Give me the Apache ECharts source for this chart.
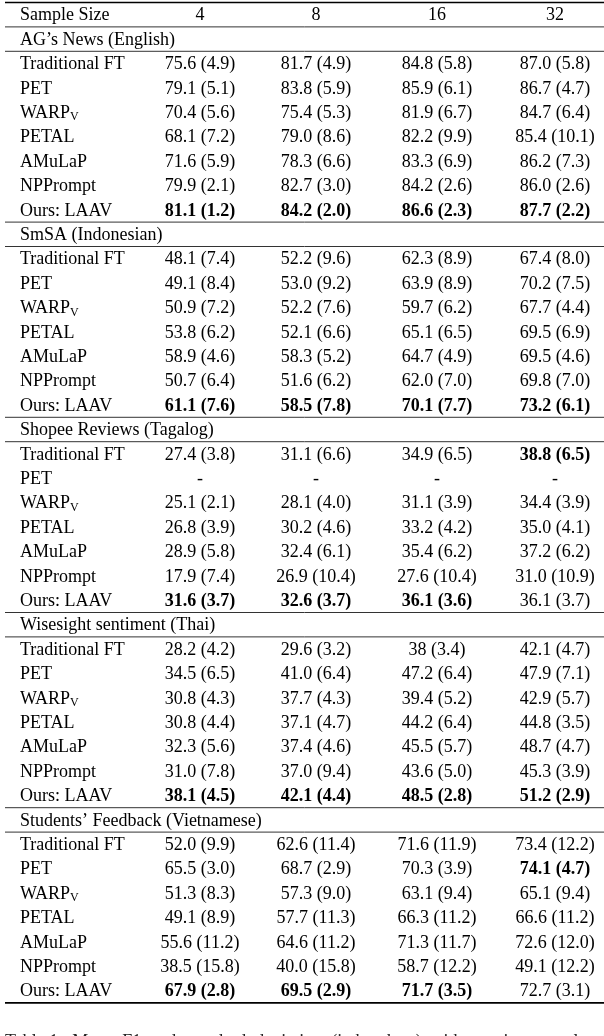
<!DOCTYPE html>
<html><head><meta charset="utf-8">
<script src="https://cdn.jsdelivr.net/npm/echarts@6/dist/echarts.min.js"></script>
<style>html,body{margin:0;padding:0;background:#fff}#c{width:604px;height:1036px}</style>
</head><body><div id="c"></div>
<script>
// ---------- data ----------
const headerLabel = 'Sample Size';
const sampleSizes = ['4', '8', '16', '32'];
const methods = ['Traditional FT', 'PET', 'WARP{sub|V}', 'PETAL', 'AMuLaP', 'NPPrompt', 'Ours: LAAV'];
const datasetNames = ['AG’s News (English)', 'SmSA (Indonesian)', 'Shopee Reviews (Tagalog)', 'Wisesight sentiment (Thai)', 'Students’ Feedback (Vietnamese)'];

const agNews = [
  ['75.6 (4.9)', '81.7 (4.9)', '84.8 (5.8)', '87.0 (5.8)'],
  ['79.1 (5.1)', '83.8 (5.9)', '85.9 (6.1)', '86.7 (4.7)'],
  ['70.4 (5.6)', '75.4 (5.3)', '81.9 (6.7)', '84.7 (6.4)'],
  ['68.1 (7.2)', '79.0 (8.6)', '82.2 (9.9)', '85.4 (10.1)'],
  ['71.6 (5.9)', '78.3 (6.6)', '83.3 (6.9)', '86.2 (7.3)'],
  ['79.9 (2.1)', '82.7 (3.0)', '84.2 (2.6)', '86.0 (2.6)'],
  ['81.1 (1.2)', '84.2 (2.0)', '86.6 (2.3)', '87.7 (2.2)']
];
const agNewsBest = [[6, 0], [6, 1], [6, 2], [6, 3]];

const smsa = [
  ['48.1 (7.4)', '52.2 (9.6)', '62.3 (8.9)', '67.4 (8.0)'],
  ['49.1 (8.4)', '53.0 (9.2)', '63.9 (8.9)', '70.2 (7.5)'],
  ['50.9 (7.2)', '52.2 (7.6)', '59.7 (6.2)', '67.7 (4.4)'],
  ['53.8 (6.2)', '52.1 (6.6)', '65.1 (6.5)', '69.5 (6.9)'],
  ['58.9 (4.6)', '58.3 (5.2)', '64.7 (4.9)', '69.5 (4.6)'],
  ['50.7 (6.4)', '51.6 (6.2)', '62.0 (7.0)', '69.8 (7.0)'],
  ['61.1 (7.6)', '58.5 (7.8)', '70.1 (7.7)', '73.2 (6.1)']
];
const smsaBest = [[6, 0], [6, 1], [6, 2], [6, 3]];

const shopee = [
  ['27.4 (3.8)', '31.1 (6.6)', '34.9 (6.5)', '38.8 (6.5)'],
  ['-', '-', '-', '-'],
  ['25.1 (2.1)', '28.1 (4.0)', '31.1 (3.9)', '34.4 (3.9)'],
  ['26.8 (3.9)', '30.2 (4.6)', '33.2 (4.2)', '35.0 (4.1)'],
  ['28.9 (5.8)', '32.4 (6.1)', '35.4 (6.2)', '37.2 (6.2)'],
  ['17.9 (7.4)', '26.9 (10.4)', '27.6 (10.4)', '31.0 (10.9)'],
  ['31.6 (3.7)', '32.6 (3.7)', '36.1 (3.6)', '36.1 (3.7)']
];
const shopeeBest = [[0, 3], [6, 0], [6, 1], [6, 2]];

const wisesight = [
  ['28.2 (4.2)', '29.6 (3.2)', '38 (3.4)', '42.1 (4.7)'],
  ['34.5 (6.5)', '41.0 (6.4)', '47.2 (6.4)', '47.9 (7.1)'],
  ['30.8 (4.3)', '37.7 (4.3)', '39.4 (5.2)', '42.9 (5.7)'],
  ['30.8 (4.4)', '37.1 (4.7)', '44.2 (6.4)', '44.8 (3.5)'],
  ['32.3 (5.6)', '37.4 (4.6)', '45.5 (5.7)', '48.7 (4.7)'],
  ['31.0 (7.8)', '37.0 (9.4)', '43.6 (5.0)', '45.3 (3.9)'],
  ['38.1 (4.5)', '42.1 (4.4)', '48.5 (2.8)', '51.2 (2.9)']
];
const wisesightBest = [[6, 0], [6, 1], [6, 2], [6, 3]];

const students = [
  ['52.0 (9.9)', '62.6 (11.4)', '71.6 (11.9)', '73.4 (12.2)'],
  ['65.5 (3.0)', '68.7 (2.9)', '70.3 (3.9)', '74.1 (4.7)'],
  ['51.3 (8.3)', '57.3 (9.0)', '63.1 (9.4)', '65.1 (9.4)'],
  ['49.1 (8.9)', '57.7 (11.3)', '66.3 (11.2)', '66.6 (11.2)'],
  ['55.6 (11.2)', '64.6 (11.2)', '71.3 (11.7)', '72.6 (12.0)'],
  ['38.5 (15.8)', '40.0 (15.8)', '58.7 (12.2)', '49.1 (12.2)'],
  ['67.9 (2.8)', '69.5 (2.9)', '71.7 (3.5)', '72.7 (3.1)']
];
const studentsBest = [[1, 3], [6, 0], [6, 1], [6, 2]];

const captionText = 'Table 1:  Mean  F1  and  standard  deviation  (in brackets)  with  varying  sample  sizes';

// ---------- build rows ----------
const tables = [agNews, smsa, shopee, wisesight, students];
const bests = [agNewsBest, smsaBest, shopeeBest, wisesightBest, studentsBest];
const rows = [{ kind: 'header' }];
tables.forEach((t, ti) => {
  rows.push({ kind: 'title', text: datasetNames[ti] });
  t.forEach((cells, ri) => {
    const bold = cells.map((_, ci) => bests[ti].some(b => b[0] === ri && b[1] === ci));
    rows.push({ kind: 'data', label: methods[ri], cells, bold });
  });
});
const nRows = rows.length;
// horizontal rules at row boundaries
const rules = [{ b: 0, w: 1.6 }, { b: 1, w: 1 }];
let acc = 1;
tables.forEach((t, ti) => {
  acc += 1; rules.push({ b: acc, w: 1 });
  acc += t.length;
  rules.push({ b: acc, w: ti === tables.length - 1 ? 1.6 : 1 });
});

// ---------- layout ----------
const FONT = '"Liberation Serif", "Times New Roman", serif';
const FS = 18;
const labelX = 20;
const colX = [200, 316, 437, 555];
const lineX0 = 5, lineX1 = 604;

const chart = echarts.init(document.getElementById('c'), null, { renderer: 'canvas' });
const rich = { sub: { fontFamily: FONT, fontSize: 12, padding: [8, 0, 0, 0], fill: '#000' } };

function txt(x, y, text, align, bold) {
  return {
    type: 'text', x, y,
    style: {
      text, fontFamily: FONT, fontSize: FS, fontWeight: bold ? 'bold' : 'normal',
      fill: '#000', align, verticalAlign: 'middle', rich
    }
  };
}

chart.setOption({
  animation: false,
  grid: { left: 0, right: 0, top: 2.5, bottom: 33.1, containLabel: false },
  xAxis: { type: 'value', min: 0, max: 604, show: false },
  yAxis: { type: 'value', min: 0, max: nRows, inverse: true, show: false },
  series: [
    {
      type: 'custom',
      data: rows.map((r, i) => [0, i + 0.5]),
      renderItem(params, api) {
        const r = rows[params.dataIndex];
        const y = api.coord([0, api.value(1)])[1] + 1;
        const children = [];
        if (r.kind === 'header') {
          children.push(txt(api.coord([labelX, 0])[0], y, headerLabel, 'left', false));
          sampleSizes.forEach((s, ci) => children.push(txt(api.coord([colX[ci], 0])[0], y, s, 'center', false)));
        } else if (r.kind === 'title') {
          children.push(txt(api.coord([labelX, 0])[0], y, r.text, 'left', false));
        } else {
          children.push(txt(api.coord([labelX, 0])[0], y, r.label, 'left', false));
          r.cells.forEach((c, ci) => children.push(txt(api.coord([colX[ci], 0])[0], y, c, 'center', r.bold[ci])));
        }
        return { type: 'group', children };
      }
    },
    {
      type: 'custom',
      data: rules.map(r => [0, r.b, r.w]),
      renderItem(params, api) {
        const y = api.coord([0, api.value(1)])[1];
        const w = api.value(2);
        return {
          type: 'line',
          shape: { x1: api.coord([lineX0, 0])[0], y1: y, x2: api.coord([lineX1, 0])[0], y2: y },
          style: { stroke: w > 1 ? '#000' : '#333', lineWidth: w }
        };
      }
    }
  ],
  graphic: [{
    type: 'text', left: 5, top: 1033,
    style: { text: captionText, fontFamily: FONT, fontSize: FS, fill: '#222' }
  }]
});
</script>
</body></html>
